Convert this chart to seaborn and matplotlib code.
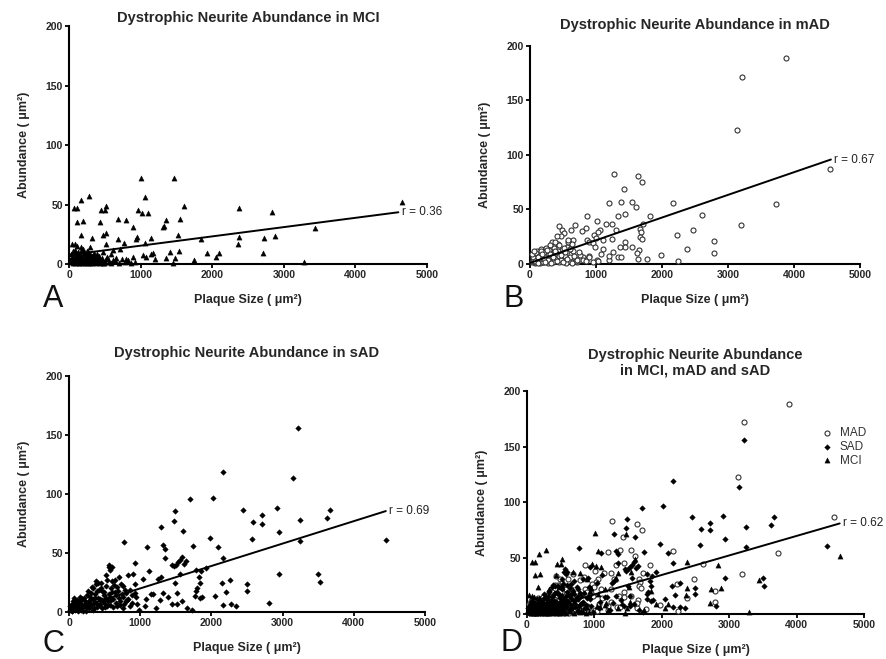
import numpy as np
import pandas as pd
import seaborn as sns
from matplotlib import pyplot as plt

sns.set_style("white")
plt.rcParams["font.family"] = ["Liberation Sans", "DejaVu Sans"]

# -----------------------------------------------------------------
# データ (目視で読み取った値)
# -----------------------------------------------------------------
# MCI (三角)
mci_x = [1012, 1469, 280, 173, 1059, 1609, 513, 75, 112, 965, 452, 500, 1026, 1100,
         686, 793, 1348, 1549, 112, 196, 1325, 1306, 429, 896, 2369, 2831, 4650, 3437,
         2878, 2724, 2379, 2360, 2715, 3288, 2099, 2052, 1922, 1847, 1740, 1516, 1535,
         1404, 1348, 1479, 1152, 1059, 951, 942, 765, 686, 522, 476, 163, 322, 79, 173,
         289, 522, 896, 1082, 1152, 1200, 802, 616, 709, 1035, 1175, 1449,
         20, 35, 45, 55, 60, 70, 80, 90, 95, 105, 115, 120, 130, 140, 150, 155, 165,
         175, 185, 195, 200, 210, 220, 230, 240, 250, 260, 270, 280, 290, 300, 310,
         320, 335, 350, 365, 380, 395, 410, 425, 440, 455, 470, 490, 510, 530, 560,
         590, 620, 660, 700, 740, 780, 830, 870, 920,
         25, 40, 50, 65, 85, 100, 110, 125, 135, 145, 160, 170, 180, 190, 205, 215,
         225, 235, 245, 255, 265, 275, 285, 295, 305, 315, 325, 340, 355, 370, 385,
         400, 415, 430, 450, 475, 500, 540, 580, 640]
mci_y = [72.5, 72, 57, 54, 56.5, 49, 49, 47, 47, 45, 45, 45, 43, 42.5,
         38, 37, 37, 38, 35, 36, 32, 31, 35, 31, 47, 44, 52, 30.5,
         23.5, 22, 23, 17, 9.5, 1.7, 9, 5.6, 9, 21, 3.4, 24, 11,
         10, 5, 5, 22, 18, 23, 21, 18, 21, 26, 24, 24, 22, 16.5, 14.5,
         14.5, 17, 6, 6, 8.5, 4, 4, 12, 13, 7.5, 9.5, 0.5,
         3, 17, 6, 1, 9, 4, 12, 2, 7, 15, 3, 10, 5, 1, 8, 4, 11,
         2, 6, 13, 3, 9, 1, 5, 7, 2, 10, 4, 6, 1, 8, 3,
         5, 2, 9, 4, 1, 6, 3, 7, 2, 5, 10, 1, 4, 6, 2,
         8, 3, 5, 1, 4, 2, 3, 1, 2,
         8, 2, 11, 5, 1, 6, 3, 9, 0.5, 4, 2, 7, 5, 1, 3, 8,
         2, 4, 11, 6, 0.5, 3, 9, 5, 2, 7, 1, 4, 6, 3, 8,
         2, 5, 1, 3, 0.5, 2, 4, 1, 3]

# mAD (白丸)
mad_x = [3884, 3217, 3131, 4551, 3722, 3192, 2606, 2172, 2475, 2227, 2374, 2793, 2788,
         2237, 1980, 1773, 1636, 1268, 1631, 1702, 1424, 1202, 1374, 1550, 1601, 1439,
         1328, 1823, 1717, 1247, 1298, 1667, 1682, 1662, 1692, 1545, 1444, 1444, 1369,
         1338, 1374, 1252, 1202, 1646, 1626, 1015, 1146, 1055, 1030, 864, 848, 687, 783,
         616, 434, 490, 520, 465, 338, 646, 864, 889, 970, 995, 955, 985, 1101, 1111,
         1242, 1202, 1076, 894, 808, 1010, 1035, 848,
         30, 50, 70, 90, 100, 120, 140, 150, 170, 190, 200, 220, 240, 260, 280, 300,
         320, 340, 360, 380, 400, 420, 440, 460, 480, 500, 530, 560, 590, 620, 650,
         680, 720, 760, 800, 850, 900, 950, 110, 160, 250, 310, 420, 580,
         40, 60, 80, 105, 130, 155, 180, 210, 235, 270, 295, 330, 350, 375, 395, 410,
         435, 470, 510, 545, 575, 610, 640, 700, 740,
         45, 75, 95, 115, 140, 165, 190, 215, 245, 275, 300, 325, 355, 385, 415, 445,
         475, 505, 535, 565, 600, 630, 670, 710, 35, 65, 125, 185, 225, 265]
mad_y = [188.7, 172, 123, 87, 54.6, 36, 45, 56.4, 31.4, 27, 14, 21, 10.4,
         2.4, 8, 4.3, 5, 83, 81, 75.6, 69, 56, 57, 57, 52.4, 45.7,
         44, 44, 36.6, 37, 31, 31.7, 29, 25, 23, 16, 20, 15.5, 16,
         6, 6, 11, 3.7, 12.5, 10, 39, 37, 31, 29, 44, 33, 36, 30.5,
         31, 34.5, 31, 28, 26, 20, 22, 22, 20, 26.5, 24, 19, 16, 22, 14,
         22.5, 7, 9, 7, 6, 4, 3, 4,
         2, 5, 1, 8, 4, 10, 3, 6, 12, 2, 7, 14, 4, 9, 1, 11,
         6, 3, 15, 8, 5, 18, 2, 10, 13, 4, 7, 16, 3, 9, 12,
         5, 2, 8, 4, 3, 6, 2, 12, 14, 8, 17, 12, 20,
         3, 7, 2, 5, 9, 1, 4, 11, 6, 3, 13, 8, 2, 20, 10, 26,
         7, 4, 15, 1, 22, 6, 18, 3, 11,
         6, 3, 10, 1, 7, 12, 2, 5, 15, 4, 9, 1, 6, 12, 3, 17,
         8, 2, 11, 5, 14, 1, 7, 4, 9, 12, 6, 9, 2, 13]

# sAD (黒菱形)
sad_x = [3219, 3149, 2160, 2024, 1701, 1490, 1476, 1298, 1598, 768, 1092, 1739, 1977,
         2090, 2165, 1321, 1354, 1349, 932, 1120, 1040, 1500, 1530, 1560, 1590, 1620,
         1650, 1450, 1470, 1298, 1256, 1495, 1556, 1785, 1856, 1921, 1823, 1841, 1800,
         1785, 1870, 1776, 1837, 2446, 2582, 2709, 2709, 2573, 2915, 2943, 3243, 3243,
         3627, 3660, 4447, 3500, 3524, 2943, 2498, 2498, 2812, 2268, 2155, 2202, 2052,
         2170, 2273, 2343, 1523, 1523, 1593, 1443, 1663, 1729, 1392, 1274, 1321, 1228,
         1157, 1181, 1087, 900, 829, 923, 937, 1068,
         15, 25, 40, 55, 65, 75, 90, 100, 110, 125, 135, 150, 160, 175, 185, 200, 210,
         225, 240, 250, 265, 280, 290, 300, 315, 330, 345, 360, 375, 390, 400, 415,
         430, 445, 460, 475, 490, 505, 520, 540, 555, 570, 585, 600, 620, 640, 660,
         680, 700, 720, 740, 760, 780, 800, 830, 860, 890, 920, 950, 980,
         560, 575, 600, 410, 385, 465, 700, 650, 120, 180, 330, 520, 610, 760,
         20, 35, 50, 60, 80, 95, 115, 130, 145, 165, 180, 195, 215, 230, 245, 260,
         275, 295, 310, 325, 340, 355, 370, 385, 405, 420, 440, 455, 470, 485, 500,
         515, 530, 550, 565, 580, 595, 615, 635, 655, 675, 695, 715, 735, 755, 775,
         795, 820, 850, 880]
sad_y = [156, 114, 119, 97, 95.5, 85.6, 77, 72, 69, 59, 55, 55.6, 63,
         54.8, 46, 56.8, 53.4, 45.5, 41.8, 35, 28, 40, 42, 44, 47, 41,
         43, 40, 39, 30, 27.7, 25, 32, 36, 34.5, 37.6, 30, 25, 20,
         18, 12.7, 13.8, 11.9, 86.7, 76, 82, 75, 62, 88, 67.5, 78, 60,
         80, 86.7, 60.7, 32.5, 25.4, 32, 23.4, 18, 7.6, 27.4, 25, 17, 13.3,
         6.2, 6.5, 5, 16, 7, 9, 7, 3.7, 1.4, 12.7, 10, 16, 3.7,
         15, 15, 11, 32.5, 31, 24, 13, 5,
         2, 6, 1, 9, 4, 12, 3, 7, 10, 1, 5, 13, 8, 2, 11, 4, 6,
         9, 1, 14, 7, 3, 10, 5, 16, 2, 8, 12, 24, 4, 18, 6,
         11, 20, 3, 9, 14, 7, 22, 5, 38, 13, 10, 26, 4, 17, 8,
         21, 12, 6, 15, 3, 19, 9, 11, 5, 14, 16, 7, 2,
         40, 36, 38, 25, 26, 18, 30, 27, 8, 11, 20, 31, 17, 22,
         5, 1, 3, 7, 2, 9, 4, 6, 3, 10, 5, 1, 12, 7, 4, 18,
         9, 13, 6, 21, 11, 3, 15, 8, 12, 19, 7, 25, 10, 17, 4,
         12, 27, 9, 15, 6, 20, 11, 23, 14, 5, 18, 9, 24, 13, 7,
         16, 10, 19, 8]

# 回帰直線 (切片, 傾き, x の終点) と相関係数
mci_fit = (7.6, 0.0078, 4600)
mad_fit = (1.0, 0.0208, 4560)
sad_fit = (1.0, 0.0190, 4450)
all_fit = (0.0, 0.0175, 4640)
r_labels = ["r = 0.36", "r = 0.67", "r = 0.69", "r = 0.62"]

titles = [
    "Dystrophic Neurite Abundance in MCI",
    "Dystrophic Neurite Abundance in mAD",
    "Dystrophic Neurite Abundance in sAD",
    "Dystrophic Neurite Abundance\nin MCI, mAD and sAD",
]
title_pads = [3, 12, 14, 12]
letters = ["A", "B", "C", "D"]
letter_dy = [-31, -31, -29, -26.5]

mci_df = pd.DataFrame({"x": mci_x, "y": mci_y, "group": "MCI"})
mad_df = pd.DataFrame({"x": mad_x, "y": mad_y, "group": "MAD"})
sad_df = pd.DataFrame({"x": sad_x, "y": sad_y, "group": "SAD"})

# マーカー設定
styles = {
    "MAD": dict(marker="o", s=13, facecolor="white", edgecolor="#333333", linewidth=0.8),
    "SAD": dict(marker="D", s=8, color="black", edgecolor="black", linewidth=0.3),
    "MCI": dict(marker="^", s=14, color="black", edgecolor="black", linewidth=0.3),
}

# -----------------------------------------------------------------
# 描画
# -----------------------------------------------------------------
fig = plt.figure(figsize=(8.87, 6.59), dpi=100)
ax_a = fig.add_axes([0.0778, 0.5994, 0.4036, 0.3611])
ax_b = fig.add_axes([0.5975, 0.5994, 0.3720, 0.3308])
ax_c = fig.add_axes([0.0778, 0.0713, 0.4013, 0.3581])
ax_d = fig.add_axes([0.5941, 0.0683, 0.3799, 0.3384])
axes = [ax_a, ax_b, ax_c, ax_d]

panel_data = [[mci_df], [mad_df], [sad_df], [mad_df, sad_df, mci_df]]
fits = [mci_fit, mad_fit, sad_fit, all_fit]

for ax, dfs, fit, r_lab, title, pad, letter, dy in zip(
    axes, panel_data, fits, r_labels, titles, title_pads, letters, letter_dy
):
    for df in dfs:
        g = df["group"].iloc[0]
        sns.scatterplot(data=df, x="x", y="y", ax=ax, clip_on=False, zorder=3,
                        label=g, legend=False, **styles[g])
    b0, b1, xend = fit
    line_df = pd.DataFrame({"x": [0, xend], "y": [b0, b0 + b1 * xend]})
    sns.lineplot(data=line_df, x="x", y="y", ax=ax, color="black", lw=1.4, zorder=4)
    ax.text(xend + 50, b0 + b1 * xend, r_lab, fontsize=8.5, va="center", ha="left",
            color="#222222", clip_on=False)
    if ax.get_legend() is not None:
        ax.get_legend().remove()

    ax.set_xlim(0, 5000)
    ax.set_ylim(0, 200)
    ax.set_xticks(np.arange(0, 5001, 1000))
    ax.set_yticks(np.arange(0, 201, 50))
    for lab in ax.get_xticklabels() + ax.get_yticklabels():
        lab.set_fontweight("bold")
    ax.tick_params(axis="both", labelsize=7.5, length=3, width=1.3, direction="out",
                   color="black", pad=1.5, bottom=True, left=True)
    sns.despine(ax=ax)
    for sp in ["left", "bottom"]:
        ax.spines[sp].set_linewidth(1.5)
        ax.spines[sp].set_color("black")

    ax.set_xlabel("Plaque Size ( μm²)", fontsize=9, fontweight="bold", labelpad=10)
    ax.set_ylabel("Abundance ( μm²)", fontsize=9, fontweight="bold", labelpad=11)
    ax.set_title(title, fontsize=10.5, fontweight="bold", pad=pad, linespacing=1.15)
    ax.annotate(letter, xy=(0, 0), xycoords="axes fraction",
                xytext=(-19, dy), textcoords="offset points",
                fontsize=22, ha="left", va="baseline", color="#111111")

# D の凡例
ax_d.legend(loc="upper left", bbox_to_anchor=(0.855, 0.865), frameon=False,
            fontsize=8.5, handlelength=1.0, handletextpad=0.6, labelspacing=0.15,
            borderpad=0.0, markerscale=1.0, labelcolor="#333333")

fig.savefig("out.png", dpi=100)
